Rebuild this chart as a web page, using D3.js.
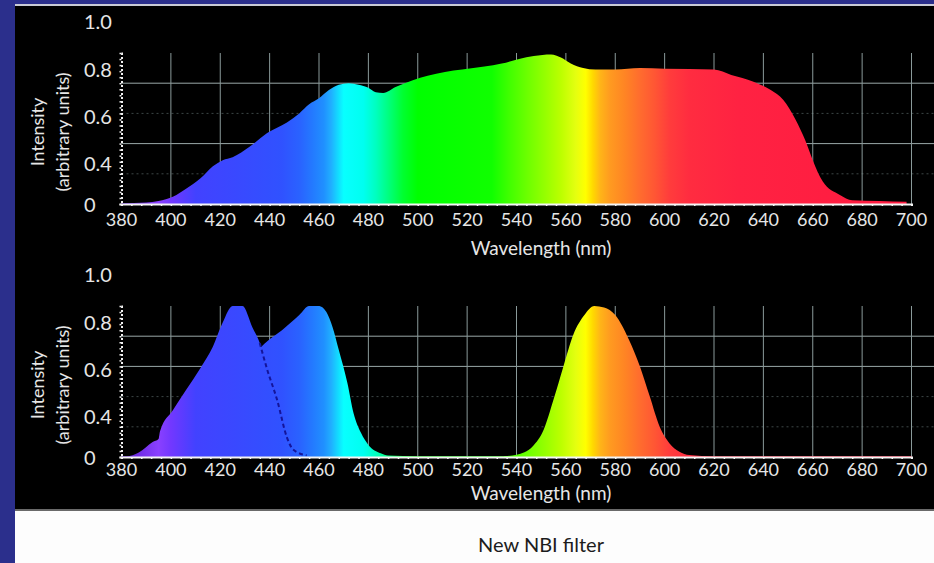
<!DOCTYPE html>
<html>
<head>
<meta charset="utf-8">
<script src="https://cdn.jsdelivr.net/npm/d3@7"></script>
<style>
  body { margin: 0; background: #2b2f8c; }
  svg { display: block; }
  text { font-family: Lato, "Open Sans", sans-serif; }
</style>
</head>
<body>
<div class="svgContainer"></div>
<script>
var w = 934;
var h = 563;

// top panel: white LED spectrum
var topWl   = [380, 390, 395, 401, 406, 412, 417, 421, 425, 432, 439, 447, 452, 456, 460, 464, 468, 472, 476, 480, 483, 486, 491, 498, 504, 511, 518, 527, 534, 541, 547, 554, 558, 562, 567, 572, 580, 590, 600, 620, 627, 636, 643, 648, 653, 657, 660, 664, 671, 676, 687, 698];
var topVals = [0.005, 0.01, 0.02, 0.05, 0.10, 0.17, 0.25, 0.29, 0.31, 0.38, 0.47, 0.54, 0.60, 0.66, 0.70, 0.755, 0.79, 0.80, 0.79, 0.77, 0.74, 0.735, 0.775, 0.82, 0.85, 0.875, 0.89, 0.91, 0.93, 0.96, 0.98, 0.99, 0.97, 0.93, 0.90, 0.89, 0.89, 0.90, 0.895, 0.89, 0.855, 0.81, 0.755, 0.69, 0.56, 0.42, 0.29, 0.15, 0.06, 0.025, 0.02, 0.015];

// bottom panel: NBI filter bands
var band1Wl   = [380, 382, 387, 392.6, 395, 395.6, 400.8, 406, 412, 417, 421, 425, 429, 433, 436, 439, 443, 447, 449.5, 455, 460];
var band1Vals = [0.005, 0.005, 0.03, 0.10, 0.12, 0.17, 0.31, 0.44, 0.59, 0.73, 0.89, 1.0, 1.0, 0.86, 0.755, 0.58, 0.38, 0.13, 0.05, 0.01, 0.005];
var band2Wl   = [400, 410, 420, 430, 436, 440, 445, 452, 456, 460, 463, 465.5, 468, 471.5, 474, 477, 480, 485, 488, 500, 540];
var band2Vals = [0.05, 0.2, 0.4, 0.6, 0.72, 0.78, 0.84, 0.94, 1.0, 1.0, 0.96, 0.86, 0.71, 0.49, 0.29, 0.16, 0.08, 0.025, 0.01, 0.005, 0.005];
var band3Wl   = [535, 540, 546.5, 551, 555, 559, 563, 567.5, 571.5, 575.5, 580, 585.6, 590, 594, 598, 602, 606, 610, 620, 700];
var band3Vals = [0.005, 0.015, 0.07, 0.18, 0.38, 0.60, 0.81, 0.94, 1.0, 0.99, 0.94, 0.775, 0.60, 0.40, 0.20, 0.09, 0.035, 0.013, 0.005, 0.005];
var dashFrom = 436, dashTo = 455;

var xTicks = [380, 400, 420, 440, 460, 480, 500, 520, 540, 560, 580, 600, 620, 640, 660, 680, 700];
var yLabels = [0, 0.4, 0.6, 0.8, 1.0];
var yLabelText = ["0", "0.4", "0.6", "0.8", "1.0"];

// colour of the spectrum by wavelength
var specWl  = [380, 395, 400, 405, 410, 425, 445, 452, 457, 462, 465, 470, 478, 483, 488, 494, 500, 530, 537, 545, 552, 558, 564, 568, 571, 574, 578, 584, 590, 596, 602, 610, 630, 700];
var specCol = ["#5a1ed0", "#8a40ff", "#7238ff", "#5a3cff", "#4242ff", "#3a48ff", "#3052ff", "#2a62ff", "#2478ff", "#2090ff", "#20b0ff", "#08ffff", "#00fff0", "#00ffc0", "#00ff80", "#00ff30", "#00ff00", "#10ff00", "#40ff00", "#70ff00", "#98ff00", "#bcff00", "#e4ff10", "#ffff00", "#ffd800", "#ffb418", "#ff9a20", "#ff8424", "#ff6c2e", "#ff5634", "#ff3c3c", "#ff2c40", "#ff2242", "#ff1a40"];

var panels = [
  { base: 204, top: 53,  strong: [0.4, 0.8], tickDy: 22, titleY: 255, series: "top" },
  { base: 457, top: 306, strong: [0.6, 0.8], tickDy: 19, titleY: 500, series: "bottom" }
];

var svg = d3.select(".svgContainer")
  .append("svg")
  .attr("width", w)
  .attr("height", h);

// frame
svg.append("rect").attr("x", 15).attr("y", 0).attr("width", w - 15).attr("height", 4).attr("fill", "#2b2f8c");
svg.append("rect").attr("x", 15).attr("y", 4).attr("width", w - 15).attr("height", 2).attr("fill", "#c9cbd6");
svg.append("rect").attr("x", 15).attr("y", 6).attr("width", w - 15).attr("height", 504).attr("fill", "#000");
svg.append("rect").attr("x", 15).attr("y", 510).attr("width", w - 15).attr("height", 53).attr("fill", "#fdfdfd");
svg.append("rect").attr("x", 15).attr("y", 509).attr("width", w - 15).attr("height", 2).attr("fill", "#6a6a6a");

var x = d3.scaleLinear().domain([380, 700]).range([121.5, 911.5]);

var grad = svg.append("defs").append("linearGradient")
  .attr("id", "spec")
  .attr("gradientUnits", "userSpaceOnUse")
  .attr("x1", x(380)).attr("x2", x(700))
  .attr("y1", 0).attr("y2", 0);
grad.selectAll("stop")
  .data(specWl)
  .enter()
  .append("stop")
  .attr("offset", d => (d - 380) / 320)
  .attr("stop-color", (d, i) => specCol[i]);

function pairs(wl, vals) {
  return wl.map((d, i) => [d, vals[i]]);
}

panels.forEach(function (p) {
  var y = d3.scaleLinear().domain([0, 1]).range([p.base, p.top]);
  var labelY = d3.scaleLinear().domain([0, 0.4, 1]).range([p.base + 1, p.base - 40, p.base - 182]);
  var g = svg.append("g");

  // grid
  g.selectAll(".hgrid")
    .data([0.2, 0.4, 0.6, 0.8])
    .enter()
    .append("line")
    .attr("x1", x(380)).attr("x2", w)
    .attr("y1", d => y(d)).attr("y2", d => y(d))
    .attr("stroke", d => p.strong.indexOf(d) >= 0 ? "#9aa8a8" : "#3c4646")
    .attr("stroke-width", 1)
    .attr("stroke-dasharray", d => p.strong.indexOf(d) >= 0 ? null : "2,3");

  g.selectAll(".vgrid")
    .data(xTicks.slice(1))
    .enter()
    .append("line")
    .attr("x1", d => x(d)).attr("x2", d => x(d))
    .attr("y1", y(0)).attr("y2", y(1))
    .attr("stroke", "#8a9a9a")
    .attr("stroke-width", 1);

  var area = d3.area()
    .x(d => x(d[0]))
    .y0(y(0))
    .y1(d => y(d[1]))
    .curve(d3.curveMonotoneX);

  if (p.series === "top") {
    g.append("path").attr("d", area(pairs(topWl, topVals))).attr("fill", "url(#spec)");
  } else {
    g.append("path").attr("d", area(pairs(band2Wl, band2Vals))).attr("fill", "url(#spec)");
    g.append("path").attr("d", area(pairs(band1Wl, band1Vals))).attr("fill", "url(#spec)");
    g.append("path").attr("d", area(pairs(band3Wl, band3Vals))).attr("fill", "url(#spec)");
    var dash = pairs(band1Wl, band1Vals).filter(d => d[0] >= dashFrom && d[0] <= dashTo);
    g.append("path")
      .attr("d", d3.line().x(d => x(d[0])).y(d => y(d[1])).curve(d3.curveMonotoneX)(dash))
      .attr("fill", "none")
      .attr("stroke", "#14149a")
      .attr("stroke-width", 2)
      .attr("stroke-dasharray", "4,3");
  }

  // axes
  var xAxis = d3.axisBottom(x)
    .tickValues(d3.range(380, 701, 4))
    .tickSize(2)
    .tickFormat("");
  var xg = g.append("g").attr("transform", "translate(0," + y(0) + ")").call(xAxis);
  xg.select(".domain").attr("stroke", "#f4f4f4").attr("stroke-width", 2);
  xg.selectAll(".tick line").attr("stroke", "#f4f4f4").attr("stroke-width", 1.5);

  var yAxis = d3.axisLeft(y)
    .tickValues(d3.range(0, 1.001, 0.04))
    .tickSize(2)
    .tickFormat("");
  var yg = g.append("g").attr("transform", "translate(" + x(380) + ",0)").call(yAxis);
  yg.select(".domain").attr("stroke", "#f0f0f0").attr("stroke-width", 2).attr("stroke-dasharray", "2,2");
  yg.selectAll(".tick line").attr("stroke", "#f0f0f0").attr("stroke-width", 1.5);

  // tick labels
  g.selectAll(".xl")
    .data(xTicks)
    .enter()
    .append("text")
    .attr("x", d => x(d))
    .attr("y", y(0) + p.tickDy)
    .attr("text-anchor", "middle")
    .attr("fill", "#e6e6e6")
    .style("font-size", "18px")
    .text(d => d);

  g.selectAll(".yl")
    .data(yLabels)
    .enter()
    .append("text")
    .attr("x", 84)
    .attr("y", d => labelY(d))
    .attr("dy", "0.36em")
    .attr("fill", "#e6e6e6")
    .style("font-size", "20px")
    .text((d, i) => yLabelText[i]);

  // titles
  g.append("text")
    .attr("x", 541)
    .attr("y", p.titleY)
    .attr("text-anchor", "middle")
    .attr("fill", "#e6e6e6")
    .style("font-size", "19px")
    .text("Wavelength (nm)");

  var cy = p.base - 72;
  g.append("text")
    .attr("transform", "translate(44," + cy + ") rotate(-90)")
    .attr("text-anchor", "middle")
    .attr("fill", "#e6e6e6")
    .style("font-size", "18px")
    .text("Intensity");
  g.append("text")
    .attr("transform", "translate(69," + cy + ") rotate(-90)")
    .attr("text-anchor", "middle")
    .attr("fill", "#e6e6e6")
    .style("font-size", "18px")
    .text("(arbitrary units)");
});

svg.append("text")
  .attr("x", 541)
  .attr("y", 552)
  .attr("text-anchor", "middle")
  .attr("fill", "#1c1c1c")
  .style("font-size", "20px")
  .text("New NBI filter");
</script>
</body>
</html>
